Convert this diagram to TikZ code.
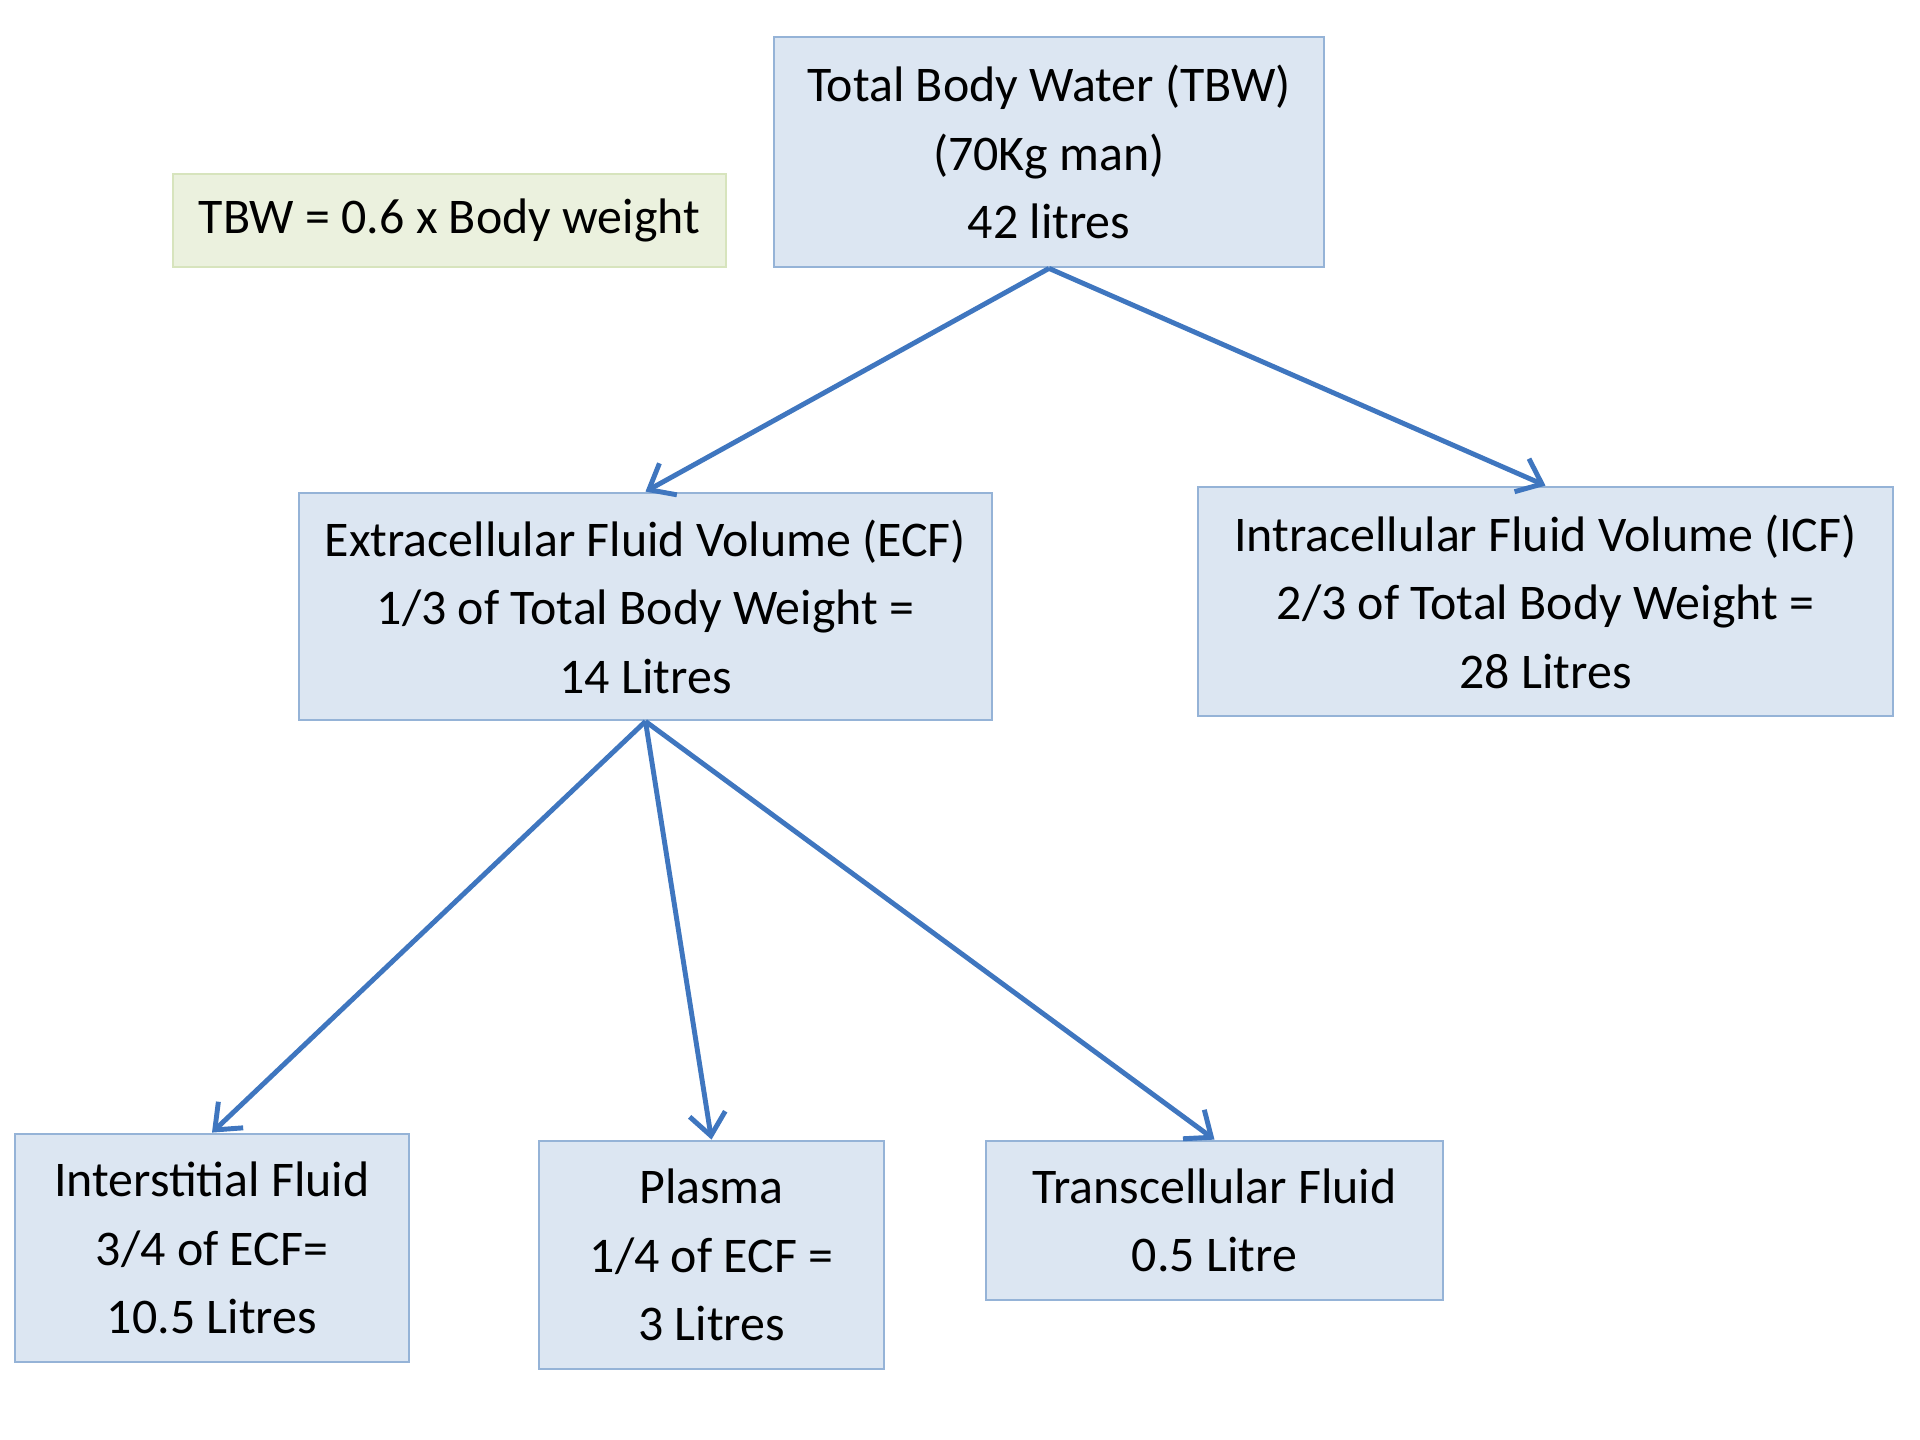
\documentclass[tikz,border=0pt]{standalone}
\usepackage{fontspec}
\setmainfont{Carlito}
\usepackage{tikz}
\usetikzlibrary{arrows.meta,positioning}
\definecolor{bwFill}{HTML}{DCE6F2}
\definecolor{bwLine}{HTML}{95B3D7}
\definecolor{bwNote}{HTML}{EBF1DE}
\definecolor{bwNoteLine}{HTML}{D7E4BD}
\definecolor{bwArrow}{HTML}{3F76BF}
\tikzset{
  fluid/.style={
    draw=bwLine, fill=bwFill, line width=0.8pt, align=center,
    font=\fontsize{14.2}{19.5}\selectfont, inner sep=0pt
  },
  notebox/.style={fluid, fill=bwNote, draw=bwNoteLine},
  split/.style={-{Straight Barb[length=2.2mm, width=3.6mm]}, line width=1.4pt, bwArrow}
}
\begin{document}
\begin{tikzpicture}[x=0.1mm, y=-0.1mm]
  \useasboundingbox (0,0) rectangle (1920,1440);
  \node[fluid, minimum width=55mm, minimum height=23mm] (tbw) at (1049,152)
    {Total Body Water (TBW)\\(70Kg man)\\42 litres};
  \node[notebox, minimum width=55.3mm, minimum height=9.3mm] (rule) at (449.5,220.5)
    {TBW = 0.6 x Body weight};
  \node[fluid, minimum width=69.3mm, minimum height=22.7mm] (ecf) at (645.5,606.5)
    {Extracellular Fluid Volume (ECF)\\1/3 of Total Body Weight =\\14 Litres};
  \node[fluid, minimum width=69.5mm, minimum height=22.9mm] (icf) at (1545.5,601.5)
    {Intracellular Fluid Volume (ICF)\\2/3 of Total Body Weight =\\28 Litres};
  \node[fluid, minimum width=39.4mm, minimum height=22.8mm] (isf) at (212,1248)
    {Interstitial Fluid\\3/4 of ECF=\\10.5 Litres};
  \node[fluid, minimum width=34.5mm, minimum height=22.8mm] (plasma) at (711.5,1255)
    {Plasma\\1/4 of ECF =\\3 Litres};
  \node[fluid, minimum width=45.7mm, minimum height=15.9mm] (tcf) at (1214.5,1220.5)
    {Transcellular Fluid\\0.5 Litre};
  \foreach \s/\e in {tbw/ecf, tbw/icf, ecf/isf, ecf/plasma, ecf/tcf}{\draw[split] (\s.south) -- (\e.north);}
\end{tikzpicture}
\end{document}
